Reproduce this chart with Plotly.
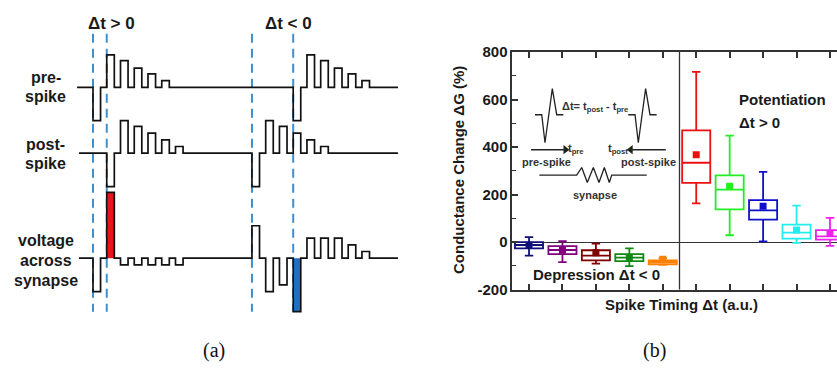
import plotly.graph_objects as go

# ---------------- Panel (a): spike schematic data ----------------
slot_width = 0.55                 # pulse width in slot units
group_starts = [0.0, 11.56]       # "dt > 0" group and "dt < 0" group
row_labels = [["pre-", "spike"], ["post-", "spike"], ["voltage", "across", "synapse"]]
row_baselines = [-82, -151, -261]
row_span = [(-1.16, 22.18), (-1.02, 22.18), (-1.02, 22.18)]
# pulse amplitudes per slot (0 = no pulse)
pre_g1 = [-35, 34, 28, 20, 14, 7]
pre_g2 = [0, 0, 0, -35, 34, 28, 20, 14, 7]
post_g1 = [0, -35, 34, 28, 21, 14, 7]
post_g2 = [-35, 34, 28, 21, 14, 7]
volt_g1 = [-35, 69, -7, -7, -7, -7, -7]
volt_g2 = [34, -35, -28, -56, 21, 21, 21, 14, 7]
rows = [[pre_g1, pre_g2], [post_g1, post_g2], [volt_g1, volt_g2]]
# highlighted (filled) pulses: (row, group, slot, colour)
highlights = [(2, 0, 1, "#e8141c"), (2, 1, 3, "#1f6fc2")]
# dashed timing markers: (group, slot)
dash_marks = [(0, 0), (0, 1), (1, 0), (1, 3)]
dash_y = (-26, -317)
group_titles = ["Δt > 0", "Δt < 0"]

# ---------------- Panel (b): box plot data ----------------
categories = [1, 2, 3, 4, 5, 6, 7, 8, 9, 10]
box_colors = ["#10107a", "#800080", "#800000", "#108a10", "#ff8000",
              "#ee1010", "#22ee22", "#1010cc", "#22eeee", "#ee22ee"]
upper = [21, 4, -6, -26, -67, 716, 448, 296, 154, 102]
q3 = [0, -17, -34, -50, -77, 470, 281, 177, 74, 51]
median = [-12, -33, -57, -65, -84, 334, 221, 134, 40, 24]
q1 = [-26, -50, -77, -80, -93, 249, 138, 95, 15, 11]
lower = [-57, -84, -90, -101, -95, 163, 29, 3, -3, -16]
mean = [-13, -34, -45, -64, -72, 368, 235, 151, 51, 37]
y_ticks = [-200, 0, 200, 400, 600, 800]
n_depression = 5

# inset schematic (in panel-b data units)
spike_shape_x = [0.0, 0.201, 0.299, 0.518, 0.649, 0.847]
spike_shape_y = [536, 536, 418, 646, 536, 536]
spike_left_x0 = 1.179
spike_right_x0 = 3.969
resistor_x = [1.308, 2.426, 2.576, 2.743, 2.923, 3.093, 3.252, 3.401, 3.473, 4.520]
resistor_y = [282, 282, 314, 251, 314, 251, 314, 251, 282, 282]
arrow_y = 389
arrow_pre_x = [1.06, 2.09]      # tail -> head
arrow_post_x = [5.09, 4.04]     # tail -> head

FONT = "Liberation Sans, Arial, sans-serif"
TXT = "#1a1a1a"

fig = go.Figure()

# ---- schematic traces ----
for (r, g, slot, col) in highlights:
    b = row_baselines[r]
    a = rows[r][g][slot]
    x0 = group_starts[g] + slot
    fig.add_trace(go.Scatter(x=[x0, x0, x0 + slot_width, x0 + slot_width, x0],
                             y=[b, b + a, b + a, b, b], mode="lines", fill="toself",
                             fillcolor=col, line=dict(color=col, width=0),
                             xaxis="x", yaxis="y", hoverinfo="skip", showlegend=False))

for gi, slot in dash_marks:
    xv = group_starts[gi] + slot
    fig.add_trace(go.Scatter(x=[xv, xv], y=list(dash_y), mode="lines",
                             line=dict(color="#3c8fd0", width=2, dash="9px,6px"),
                             xaxis="x", yaxis="y", hoverinfo="skip", showlegend=False))

for r, groups in enumerate(rows):
    b = row_baselines[r]
    xs = [row_span[r][0]]
    ys = [b]
    for gi, amps in enumerate(groups):
        for k, a in enumerate(amps):
            if a == 0:
                continue
            x0 = group_starts[gi] + k
            x1 = x0 + slot_width
            xs += [x0, x0, x1, x1]
            ys += [b, b + a, b + a, b]
    xs.append(row_span[r][1])
    ys.append(b)
    fig.add_trace(go.Scatter(x=xs, y=ys, mode="lines", line=dict(color="#111", width=1.7),
                             xaxis="x", yaxis="y", hoverinfo="skip", showlegend=False))

annotations = []
label_x = -3.42
label_lines_y = [[-72, -92], [-142, -162], [-242, -263, -284]]
for lines, ys in zip(row_labels, label_lines_y):
    for t, yv in zip(lines, ys):
        annotations.append(dict(x=label_x, y=yv, xref="x", yref="y", text="<b>%s</b>" % t,
                                xanchor="center", yanchor="middle",
                                showarrow=False, font=dict(family=FONT, size=16, color=TXT)))
for gi, t in enumerate(group_titles):
    annotations.append(dict(x=[1.38, 14.25][gi], y=-15, xref="x", yref="y", text="<b>%s</b>" % t,
                            xanchor="center", yanchor="middle",
                            showarrow=False, font=dict(family=FONT, size=17, color=TXT)))

# ---- box plot ----
for i, c in enumerate(categories):
    fig.add_trace(go.Box(x=[c], q1=[q1[i]], median=[median[i]], q3=[q3[i]],
                         lowerfence=[lower[i]], upperfence=[upper[i]],
                         width=0.84, whiskerwidth=0.3, boxpoints=False,
                         line=dict(color=box_colors[i], width=1.8),
                         fillcolor="rgba(255,255,255,0)",
                         xaxis="x2", yaxis="y2", hoverinfo="skip", showlegend=False))
    fig.add_trace(go.Scatter(x=[c], y=[mean[i]], mode="markers",
                             marker=dict(symbol="square", size=7, color=box_colors[i]),
                             xaxis="x2", yaxis="y2", hoverinfo="skip", showlegend=False))

# inset spikes
for x0 in (spike_left_x0, spike_right_x0):
    fig.add_trace(go.Scatter(x=[x0 + v for v in spike_shape_x], y=spike_shape_y, mode="lines",
                             line=dict(color="#222", width=1.3), xaxis="x2", yaxis="y2",
                             hoverinfo="skip", showlegend=False))
fig.add_trace(go.Scatter(x=resistor_x, y=resistor_y, mode="lines",
                         line=dict(color="#222", width=1.3), xaxis="x2", yaxis="y2",
                         hoverinfo="skip", showlegend=False))
# inset arrows (line + arrow head marker)
for ax_x, sym in ((arrow_pre_x, "triangle-right"), (arrow_post_x, "triangle-left")):
    fig.add_trace(go.Scatter(x=ax_x, y=[arrow_y, arrow_y], mode="lines",
                             line=dict(color="#222", width=1.4), xaxis="x2", yaxis="y2",
                             hoverinfo="skip", showlegend=False))
    fig.add_trace(go.Scatter(x=[ax_x[1]], y=[arrow_y], mode="markers",
                             marker=dict(symbol=sym, size=8, color="#222"),
                             xaxis="x2", yaxis="y2", hoverinfo="skip", showlegend=False))

inset_texts = [
    (2.99, 569, "Δt= t<sub>post</sub> - t<sub>pre</sub>"),
    (2.40, 392, "t<sub>pre</sub>"),
    (3.66, 392, "t<sub>post</sub>"),
    (1.535, 337, "pre-spike"),
    (4.587, 337, "post-spike"),
    (2.968, 198, "synapse"),
]
for xv, yv, t in inset_texts:
    annotations.append(dict(x=xv, y=yv, xref="x2", yref="y2", text="<b>%s</b>" % t,
                            xanchor="center", yanchor="middle",
                            showarrow=False, font=dict(family=FONT, size=11, color="#333")))

annotations += [
    dict(x=7.22, y=599, xref="x2", yref="y2", text="<b>Potentiation</b>", xanchor="left",
         yanchor="middle", showarrow=False, font=dict(family=FONT, size=15, color=TXT)),
    dict(x=7.22, y=502, xref="x2", yref="y2", text="<b>Δt > 0</b>", xanchor="left",
         yanchor="middle", showarrow=False, font=dict(family=FONT, size=15, color=TXT)),
    dict(x=3.02, y=-136, xref="x2", yref="y2", text="<b>Depression Δt < 0</b>",
         xanchor="center", yanchor="middle",
         showarrow=False, font=dict(family=FONT, size=15, color=TXT)),
    dict(x=458.3 / 837, y=(376 - 168.3) / 376, xref="paper", yref="paper", textangle=-90,
         xanchor="center", yanchor="middle",
         text="<b>Conductance Change ΔG (%)</b>", showarrow=False,
         font=dict(family=FONT, size=15, color=TXT)),
    dict(x=681 / 837, y=(376 - 310) / 376, xref="paper", yref="paper",
         xanchor="center", yanchor="middle",
         text="<b>Spike Timing Δt (a.u.)</b>", showarrow=False,
         font=dict(family=FONT, size=15, color=TXT)),
    dict(x=214 / 837, y=(376 - 358) / 376, xref="paper", yref="paper", text="(a)",
         xanchor="center", yanchor="middle",
         showarrow=False, font=dict(family="Liberation Serif, DejaVu Serif, serif", size=20, color="#111")),
    dict(x=654 / 837, y=(376 - 358) / 376, xref="paper", yref="paper", text="(b)",
         xanchor="center", yanchor="middle",
         showarrow=False, font=dict(family="Liberation Serif, DejaVu Serif, serif", size=20, color="#111")),
]

shapes = [dict(type="line", xref="x2", yref="y2", x0=n_depression + 0.5, x1=n_depression + 0.5,
               y0=y_ticks[0], y1=y_ticks[-1], line=dict(color="#333", width=1.3))]

fig.update_layout(
    width=837, height=376, margin=dict(l=0, r=0, t=0, b=0),
    paper_bgcolor="white", plot_bgcolor="white", showlegend=False,
    xaxis=dict(domain=[0, 0.5], range=[-93 / 13.75, (418.5 - 93) / 13.75], visible=False,
               anchor="y"),
    yaxis=dict(domain=[0, 1], range=[-376, 0], visible=False, anchor="x"),
    xaxis2=dict(domain=[512.3 / 837, 1], range=[0.5, 10.21], anchor="y2",
                tickmode="array", tickvals=categories, showticklabels=False,
                ticks="inside", ticklen=6, tickwidth=1.5, tickcolor="#333",
                showline=True, linecolor="#333", linewidth=1.5, mirror="ticks",
                showgrid=False, zeroline=False),
    yaxis2=dict(domain=[(376 - 294) / 376, (376 - 45) / 376], range=[-200, 800], anchor="x2",
                tickmode="array", tickvals=y_ticks, ticktext=["<b>%d</b>" % v for v in y_ticks],
                ticks="inside", ticklen=6, tickwidth=1.5, tickcolor="#333",
                tickfont=dict(family=FONT, size=15, color=TXT),
                minor=dict(tickmode="linear", tick0=-100, dtick=200, ticks="inside", ticklen=4,
                           tickcolor="#333", tickwidth=1.2),
                showline=True, linecolor="#333", linewidth=1.5, mirror=False,
                showgrid=False, zeroline=True, zerolinecolor="#333", zerolinewidth=1.2),
    annotations=annotations, shapes=shapes,
)

fig.write_html("out.html")
